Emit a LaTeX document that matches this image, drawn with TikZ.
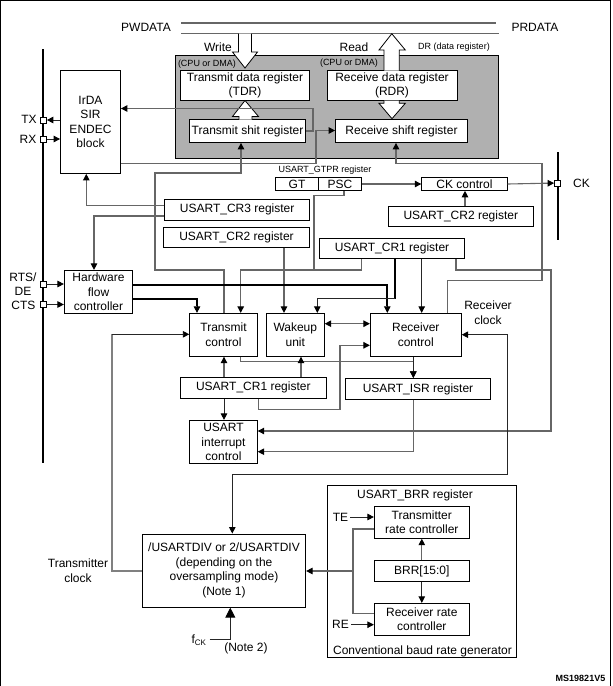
\documentclass[tikz,border=0pt]{standalone}
\usepackage{fontspec}
\setmainfont{Liberation Sans}
\usetikzlibrary{arrows.meta,calc}
\begin{document}
\begin{tikzpicture}[x=1pt,y=-1pt,>={Triangle[length=6.5pt,width=6.5pt,color=black]},
          every node/.style = {font=\fontsize{12}{14.5}\selectfont, align=center, inner sep=0pt},
          regbox/.style = {draw=black, fill=white, line width=.8pt},
          pinbox/.style = {draw=black, fill=white, line width=.7pt, minimum width=6pt, minimum height=6pt},
          small/.style = {font=\fontsize{9}{11}\selectfont},
          wire/.style = {draw=black!60, line width=1.1pt},
          bwire/.style = {draw=black!85, line width=.9pt},
          heavy/.style = {draw=black, line width=2pt},
          bigarrow/.style = {draw=black, fill=white, line width=.8pt, line join=miter}]
        \useasboundingbox (0,0) rectangle (613,686);
        \draw [line width=1pt] (.5,686) -- (.5,.7) -- (610.5,.7) -- (610.5,686);

        % data bus and FIFO area
        \node (pwdata) at (146,27) {PWDATA};
        \node (prdata) at (535,27) {PRDATA};
        \draw [wire] (181,23) -- (496,23);
        \draw [wire] (181,33.5) -- (499,33.5);
        \fill [black!31, draw=black, line width=.8pt] (175,55.5) rectangle (498.5,158);
        \node (write) at (218,47) {Write};
        \node (read) at (354,47) {Read};
        \node [small] (drlabel) at (454,47.5) {DR (data register)};
        \node [small] (cpul) at (207,64) {(CPU or DMA)};
        \node [small] (cpur) at (349,63.5) {(CPU or DMA)};
        \node [regbox, minimum width=129pt, minimum height=30pt] (tdr) at (245,85.5) {Transmit data register\\(TDR)};
        \node [regbox, minimum width=116pt, minimum height=23pt] (tsr) at (247.5,131) {Transmit shit register};
        \node [regbox, minimum width=130pt, minimum height=30pt] (rdr) at (392,85.5) {Receive data register\\(RDR)};
        \node [regbox, minimum width=132pt, minimum height=23pt] (rsr) at (401.5,131) {Receive shift register};
        \draw [bigarrow] (238.5,33.5) -- (238.5,52) -- (232.5,52) -- (245,68) -- (257.5,52) -- (251.5,52) -- (251.5,33.5);
        \draw [bigarrow] (239,119.5) -- (239,116.5) -- (232.5,116.5) -- (245,100.5) -- (258.5,116.5) -- (252,116.5) -- (252,119.5);
        \draw [bigarrow] (384,70.5) -- (384,50) -- (379,50) -- (391.8,33.7) -- (405.3,50) -- (399.3,50) -- (399.3,70.5);
        \draw [bigarrow] (384,100.5) -- (384,103.3) -- (379,103.3) -- (392,118.7) -- (405.3,103.3) -- (399.3,103.3) -- (399.3,100.5);

        % pins on the left and right rails
        \draw [heavy] (43,49) -- (43,463);
        \draw [heavy] (557.7,152) -- (557.7,240);
        \node [pinbox] (pintx) at (43.5,120) {};
        \node [pinbox] (pinrx) at (43.5,139) {};
        \node [pinbox] (pinrts) at (43,284) {};
        \node [pinbox] (pincts) at (43,304.5) {};
        \node [pinbox] (pinck) at (557.5,183) {};
        \node (txl) at (29,119.5) {TX};
        \node (rxl) at (28,139) {RX};
        \node (rtsl) at (23,284.3) {RTS/\\DE};
        \node (ctsl) at (23.5,305) {CTS};
        \node (ckl) at (581.5,183) {CK};

        % register blocks
        \node [regbox, minimum width=60pt, minimum height=103pt] (irda) at (90.5,122) {IrDA\\SIR\\ENDEC\\block};
        \node [small] (gtprl) at (325,170.5) {USART\_GTPR register};
        \node [regbox, minimum width=42.6pt, minimum height=12.8pt] (gt) at (297,184) {GT};
        \node [regbox, minimum width=43.4pt, minimum height=12.8pt] (psc) at (340,184) {PSC};
        \node [regbox, minimum width=85.6pt, minimum height=12.8pt] (ckctl) at (464.5,184) {CK control};
        \node [regbox, minimum width=145pt, minimum height=20.4pt] (crtwor) at (460.8,216.2) {USART\_CR2 register};
        \node [regbox, minimum width=145pt, minimum height=21pt] (crthree) at (237.2,209.8) {USART\_CR3 register};
        \node [regbox, minimum width=146.4pt, minimum height=20pt] (crtwol) at (236.5,237.3) {USART\_CR2 register};
        \node [regbox, minimum width=145.4pt, minimum height=20.4pt] (cronet) at (392,248.5) {USART\_CR1 register};
        \node [regbox, minimum width=68.4pt, minimum height=43pt] (hfc) at (98.5,291.8) {Hardware\\flow\\controller};
        \node [regbox, minimum width=67.6pt, minimum height=43pt] (txctl) at (223.5,334.8) {Transmit\\control};
        \node [regbox, minimum width=58pt, minimum height=43pt] (wakeup) at (295.3,334.8) {Wakeup\\unit};
        \node [regbox, minimum width=91pt, minimum height=43pt] (rxctl) at (415.8,334.8) {Receiver\\control};
        \node [regbox, minimum width=146pt, minimum height=21pt] (cronel) at (253.3,387.8) {USART\_CR1 register};
        \node [regbox, minimum width=145.4pt, minimum height=21.4pt] (isr) at (418,389) {USART\_ISR register};
        \node [regbox, minimum width=67.6pt, minimum height=43.4pt] (irq) at (223.5,442) {USART\\interrupt\\control};
        \node [regbox, minimum width=163.4pt, minimum height=73.3pt] (usdiv) at (224,570.6) {/USARTDIV or 2/USARTDIV\\(depending on the\\oversampling mode)\\(Note 1)};
        \node [draw=black, line width=.8pt, minimum width=189pt, minimum height=172pt] (brrbox) at (421.8,571.3) {};
        \node (brrl) at (415,495.7) {USART\_BRR register};
        \node (genl) at (422.5,651.3) {Conventional baud rate generator};
        \node [regbox, minimum width=95pt, minimum height=32pt] (txrate) at (421.8,522.3) {Transmitter\\rate controller};
        \node [regbox, minimum width=95pt, minimum height=20.6pt] (brr) at (421.8,571) {BRR[15:0]};
        \node [regbox, minimum width=95pt, minimum height=32pt] (rxrate) at (421.8,619.3) {Receiver rate\\controller};
        \node (rxclk) at (488,312.8) {Receiver\\clock};
        \node (txclk) at (78,570.8) {Transmitter\\clock};
        \node (tel) at (340.5,517) {TE};
        \node (rel) at (340.5,624.7) {RE};
        \node (fck) at (199,640) {f\textsubscript{CK}};
        \node (notetwo) at (246,648) {(Note 2)};
        \node [small] (msno) at (580.5,678) {\bfseries MS19821V5};

        % FIFO shift paths
        \draw [wire,->] (tsr.east) -- (313,131) -- (313,108.5) -- (irda.east |- 0,108.5);
        \draw [wire,->] (irda.east |- 0,163.5) -- (316,163.5) -- (316,130.5) -- (rsr.west |- 0,130.5);
        \draw [wire,->] (txctl.north -| 224,0) -- (224,270) -- (155,270) -- (155,173) -- (241,173) -- (tsr.south -| 241,0);
        \draw [wire,->] (rxctl.north -| 447.7,0) -- (447.7,280.3) -- (542,280.3) -- (542,163.5) -- (396,163.5) -- (rsr.south -| 396,0);
        \draw [bwire,->] (irda.west |- pintx) -- (pintx);
        \draw [bwire,->] (pinrx) -- (irda.west |- pinrx);

        % clock output
        \draw [wire,->] (psc.east) -- (ckctl.west);
        \draw [wire,->] (ckctl.east) -- (pinck);
        \draw [wire,->] (crtwor.north -| 465,0) -- (ckctl.south -| 465,0);
        \draw [wire] (psc.south -| 344,0) -- (344,195.7) -- (314,195.7) -- (314,270);
        \draw [wire,->] (cronet.south -| 361.7,0) -- (361.7,270) -- (240.7,270) -- (txctl.north -| 240.7,0);

        % control registers
        \draw [wire,->] (crthree.west |- 0,205.3) -- (86.3,205.3) -- (irda.south -| 86.3,0);
        \draw [wire,->] (crthree.west |- 0,216) -- (94,216) -- (hfc.north -| 94,0);
        \draw [wire,->] (crtwol.south -| 284,0) -- (wakeup.north -| 284,0);
        \draw [bwire,->] (pinrts) -- (hfc.west |- pinrts);
        \draw [bwire,->] (pincts) -- (hfc.west |- pincts);
        \draw [heavy] (hfc.east |- 0,285) -- (387.3,285) -- (387.3,306);
        \draw [->,black,line width=.9pt] (387.3,305) -- (rxctl.north -| 387.3,0);
        \draw [heavy] (hfc.east |- 0,299) -- (197,299) -- (197,306);
        \draw [->,black,line width=.9pt] (197,305) -- (txctl.north -| 197,0);
        \draw [heavy] (cronet.south -| 395,0) -- (395,298.7);
        \draw [bwire,->] (395,298.7) -- (317.3,298.7) -- (wakeup.north -| 317.3,0);
        \draw [bwire,->] (cronet.south -| 421.7,0) -- (rxctl.north -| 421.7,0);
        \draw [wire,->] (cronet.south -| 456,0) -- (456,270) -- (551,270) -- (551,431) -- (irq.east |- 0,431);
        \draw [wire,<->] (wakeup.east |- 0,323.7) -- (rxctl.west |- 0,323.7);

        % status and interrupts
        \draw [wire,->] (txctl.south -| 240.7,0) -- (240.7,361.3) -- (413.3,361.3) -- (isr.north -| 413.3,0);
        \draw [bwire,->] (rxctl.south -| 413.3,0) -- (isr.north -| 413.3,0);
        \draw [wire,->] (cronel.north -| 224,0) -- (txctl.south -| 224,0);
        \draw [wire,->] (cronel.north -| 301,0) -- (wakeup.south -| 301,0);
        \draw [bwire,->] (cronel.south -| 224,0) -- (irq.north -| 224,0);
        \draw [wire,->] (cronel.south -| 258.3,0) -- (258.3,409.7) -- (340,409.7) -- (340,345.3) -- (rxctl.west |- 0,345.3);
        \draw [wire,->] (isr.south -| 413.3,0) -- (413.3,451.7) -- (irq.east |- 0,451.7);

        % baud rate clocks
        \draw [bwire,<->] (usdiv.north -| 232.3,0) -- (232.3,474) -- (507.7,474) -- (507.7,334.7) -- (rxctl.east |- 0,334.7);
        \draw [draw=black!50,line width=1.5pt] (usdiv.west |- 0,571) -- (112,571) -- (112,334.3);
        \draw [bwire,->] (112,334.3) -- (txctl.west |- 0,334.3);
        \draw [bwire,-{Triangle[length=10pt,width=10pt,color=black]}] (fck.east |- 0,639.7) ++(3,0) -- (230.3,639.7) -- (usdiv.south -| 230.3,0);
        \draw [wire] (txrate.west |- 0,529) -- (353,529) -- (353,613.7) -- (rxrate.west |- 0,613.7);
        \draw [wire,->] (353,571) -- (usdiv.east |- 0,571);
        \draw [wire,->] (brr.north) -- (txrate.south);
        \draw [bwire,->] (brr.south) -- (rxrate.north);
        \draw [bwire,->] (tel.east) ++(2,0) -- (txrate.west |- tel);
        \draw [bwire,->] (rel.east) ++(2,0) -- (rxrate.west |- rel);
\end{tikzpicture}
\end{document}
